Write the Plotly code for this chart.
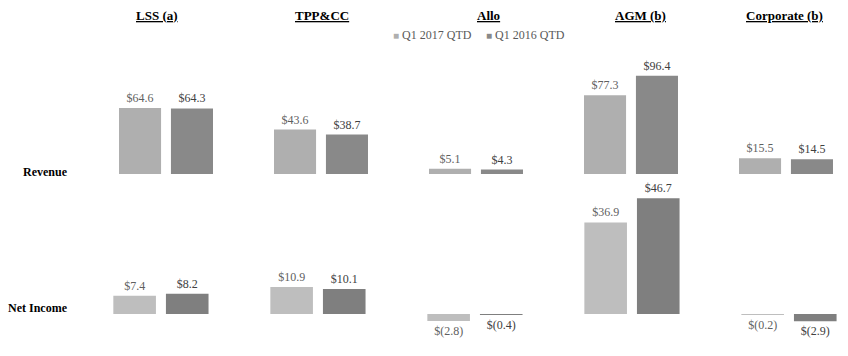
import plotly.graph_objects as go

segments = ["LSS (a)", "TPP&CC", "Allo", "AGM (b)", "Corporate (b)"]
series_names = ["Q1 2017 QTD", "Q1 2016 QTD"]
revenue_2017 = [64.6, 43.6, 5.1, 77.3, 15.5]
revenue_2016 = [64.3, 38.7, 4.3, 96.4, 14.5]
netinc_2017 = [7.4, 10.9, -2.8, 36.9, -0.2]
netinc_2016 = [8.2, 10.1, -0.4, 46.7, -2.9]

W, H = 848, 356
SERIF = "Liberation Serif, Times New Roman, serif"
rev_colors = ["#afafaf", "#898989"]
ni_colors = ["#bebebe", "#7f7f7f"]
label_colors = ["#5f5f5f", "#404040"]


def fmt(v):
    return f"${v:.1f}" if v >= 0 else f"$({-v:.1f})"


fig = go.Figure()

for vals, name, col, lc in zip([revenue_2017, revenue_2016], series_names, rev_colors, label_colors):
    fig.add_trace(go.Bar(
        x=segments, y=vals, name=name, marker=dict(color=col, line=dict(width=0)),
        text=[fmt(v) for v in vals], textposition="outside", cliponaxis=False,
        textfont=dict(family=SERIF, size=12, color=lc),
        xaxis="x", yaxis="y", showlegend=False,
    ))

for vals, name, col, lc in zip([netinc_2017, netinc_2016], series_names, ni_colors, label_colors):
    fig.add_trace(go.Bar(
        x=segments, y=vals, name=name, marker=dict(color=col, line=dict(width=0)),
        text=[fmt(v) for v in vals], textposition="outside", cliponaxis=False,
        textfont=dict(family=SERIF, size=12, color=lc),
        xaxis="x2", yaxis="y2", showlegend=False,
    ))

annotations = []
title_px = [157, 322, 488, 640, 784]
for seg, px in zip(segments, title_px):
    annotations.append(dict(
        text=f"<b><u>{seg}</u></b>", x=px / W, y=1 - 15 / H, xref="paper", yref="paper",
        xanchor="center", yanchor="middle", showarrow=False,
        font=dict(family=SERIF, size=13, color="#000000"),
    ))

annotations.append(dict(text="<b>Revenue</b>", x=70 / W, y=1 - 172 / H, xref="paper", yref="paper",
                        xanchor="right", yanchor="middle", showarrow=False,
                        font=dict(family=SERIF, size=12, color="#000000")))
annotations.append(dict(text="<b>Net Income</b>", x=70 / W, y=1 - 308 / H, xref="paper", yref="paper",
                        xanchor="right", yanchor="middle", showarrow=False,
                        font=dict(family=SERIF, size=12, color="#000000")))

for name, col, px in zip(series_names, rev_colors, [391, 484]):
    annotations.append(dict(
        text=f'<span style="color:{col};font-size:10px">■</span> {name}',
        x=px / W, y=1 - 35 / H, xref="paper", yref="paper",
        xanchor="left", yanchor="middle", showarrow=False,
        font=dict(family=SERIF, size=12, color="#595959"),
    ))

fig.update_layout(
    width=W, height=H,
    margin=dict(l=0, r=0, t=0, b=0),
    paper_bgcolor="white", plot_bgcolor="white",
    barmode="group", bargap=0.33, bargroupgap=0.19,
    xaxis=dict(domain=[0, 1], range=[-1.071, 4.400], visible=False, anchor="y"),
    yaxis=dict(domain=[1 - 174 / H, 1 - 40 / H], range=[0, 131.4], visible=False, anchor="x"),
    xaxis2=dict(domain=[0, 1], range=[-1.025, 4.376], visible=False, anchor="y2"),
    yaxis2=dict(domain=[1 - 330 / H, 1 - 190 / H], range=[-6.45, 50], visible=False, anchor="x2"),
    annotations=annotations,
    showlegend=False,
)

fig.write_html("out.html", config={"displayModeBar": False},
               post_script="document.body.style.margin='0';")
